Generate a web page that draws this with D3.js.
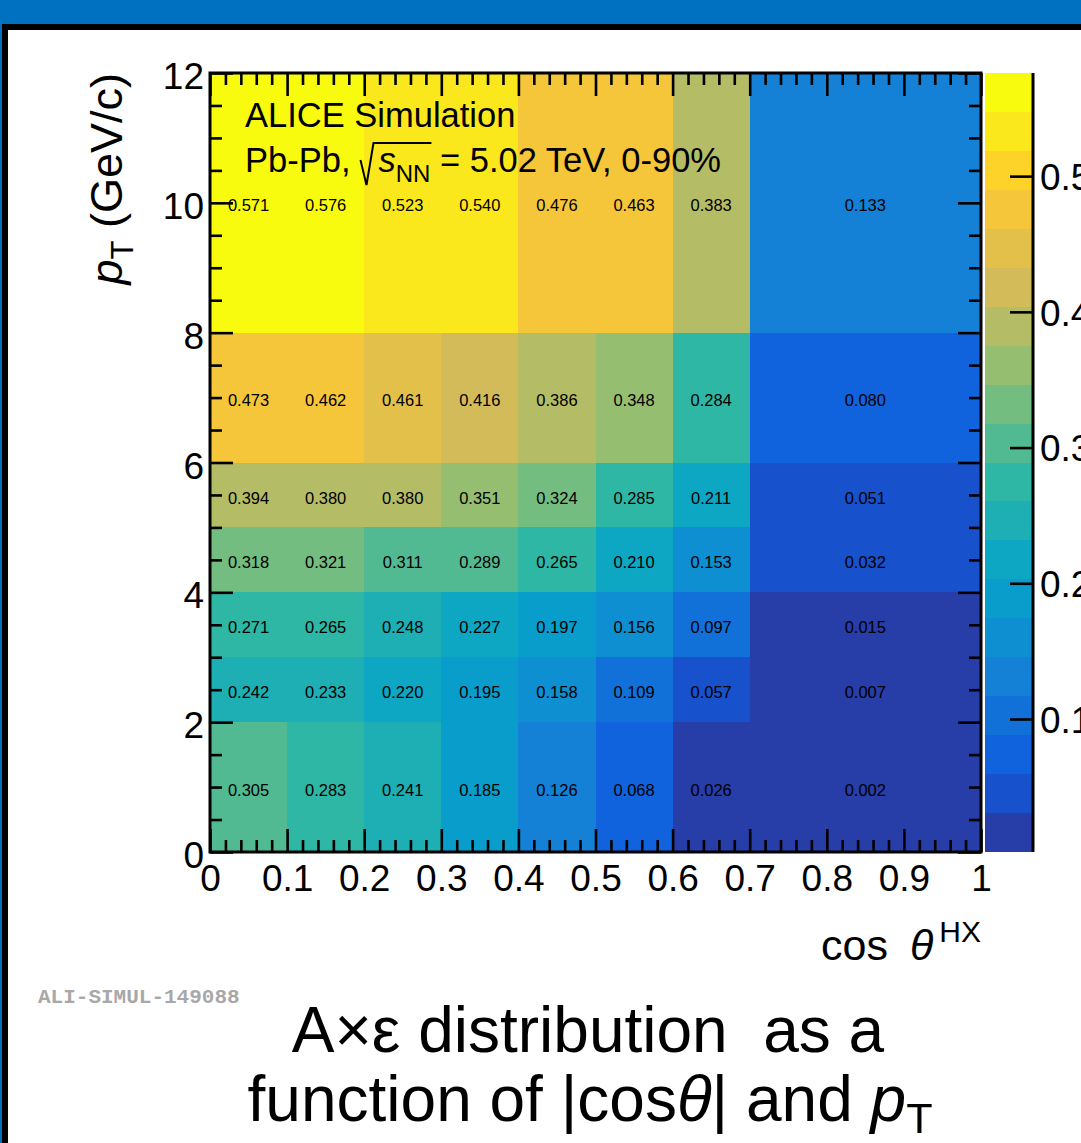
<!DOCTYPE html>
<html>
<head>
<meta charset="utf-8">
<script src="https://cdn.jsdelivr.net/npm/d3@7"></script>
<style>
  html, body { margin: 0; padding: 0; background: #fff; }
  svg { display: block; font-family: "Liberation Sans", Arial, Helvetica, sans-serif; }
  text { white-space: pre; }
</style>
</head>
<body>
<svg id="chart" width="1081" height="1143"></svg>
<script>
// Bin edges of the 2D histogram
const cosEdges = [0, 0.1, 0.2, 0.3, 0.4, 0.5, 0.6, 0.7, 1.0];
const ptEdges = [0, 2, 3, 4, 5, 6, 8, 12];

// Acceptance x efficiency, one row per pT bin (low to high), one entry per |cos theta| bin
const accEffPt0to2  = [0.305, 0.283, 0.241, 0.185, 0.126, 0.068, 0.026, 0.002];
const accEffPt2to3  = [0.242, 0.233, 0.220, 0.195, 0.158, 0.109, 0.057, 0.007];
const accEffPt3to4  = [0.271, 0.265, 0.248, 0.227, 0.197, 0.156, 0.097, 0.015];
const accEffPt4to5  = [0.318, 0.321, 0.311, 0.289, 0.265, 0.210, 0.153, 0.032];
const accEffPt5to6  = [0.394, 0.380, 0.380, 0.351, 0.324, 0.285, 0.211, 0.051];
const accEffPt6to8  = [0.473, 0.462, 0.461, 0.416, 0.386, 0.348, 0.284, 0.080];
const accEffPt8to12 = [0.571, 0.576, 0.523, 0.540, 0.476, 0.463, 0.383, 0.133];
const accEff = [accEffPt0to2, accEffPt2to3, accEffPt3to4, accEffPt4to5, accEffPt5to6, accEffPt6to8, accEffPt8to12];

// Axis ticks
const xTickValues = [0, 0.1, 0.2, 0.3, 0.4, 0.5, 0.6, 0.7, 0.8, 0.9, 1];
const xTickLabels = ["0", "0.1", "0.2", "0.3", "0.4", "0.5", "0.6", "0.7", "0.8", "0.9", "1"];
const yTickValues = [0, 2, 4, 6, 8, 10, 12];
const yTickLabels = ["0", "2", "4", "6", "8", "10", "12"];
const zTickValues = [0.1, 0.2, 0.3, 0.4, 0.5];
const zTickLabels = ["0.1", "0.2", "0.3", "0.4", "0.5"];
const zRange = [0.002, 0.576];
const nContours = 20;

// "Bird" palette (ROOT kBird)
const birdStops = [0.0, 0.125, 0.25, 0.375, 0.5, 0.625, 0.75, 0.875, 1.0];
const birdR = [0.2082, 0.0592, 0.0780, 0.0232, 0.1802, 0.5301, 0.8186, 0.9956, 0.9764];
const birdG = [0.1664, 0.3599, 0.5041, 0.6419, 0.7178, 0.7492, 0.7328, 0.7862, 0.9832];
const birdB = [0.5293, 0.8684, 0.8385, 0.7914, 0.6425, 0.4662, 0.3499, 0.1968, 0.0539];
const bird = d3.scaleLinear()
  .domain(birdStops)
  .range(birdStops.map((_, i) => d3.rgb(birdR[i] * 255, birdG[i] * 255, birdB[i] * 255).toString()));
const bandColors = d3.range(nContours).map(k => bird(Math.floor((k + 0.99) * 255 / nContours) / 254));
const color = d3.scaleQuantize().domain(zRange).range(bandColors);

const svg = d3.select("#chart");

// Slide background: blue band, black border, white page
svg.append("rect").attr("x", 0).attr("y", 0).attr("width", 1081).attr("height", 1143).attr("fill", "#0070c0");
svg.append("rect").attr("x", 2).attr("y", 24).attr("width", 1079).attr("height", 1119).attr("fill", "#000");
svg.append("rect").attr("x", 8).attr("y", 30).attr("width", 1073).attr("height", 1113).attr("fill", "#fff");

// Plot frame
const frame = { left: 210, right: 981, top: 73, bottom: 852 };
const x = d3.scaleLinear().domain([0, 1]).range([frame.left, frame.right]);
const y = d3.scaleLinear().domain([0, 12]).range([frame.bottom, frame.top]);

// Cells
const cells = [];
accEff.forEach((row, i) => row.forEach((v, j) => cells.push({ i, j, v })));

const gCells = svg.append("g");
gCells.selectAll("rect").data(cells).join("rect")
  .attr("x", d => x(cosEdges[d.j]))
  .attr("y", d => y(ptEdges[d.i + 1]))
  .attr("width", d => x(cosEdges[d.j + 1]) - x(cosEdges[d.j]))
  .attr("height", d => y(ptEdges[d.i]) - y(ptEdges[d.i + 1]))
  .attr("fill", d => color(d.v))
  .attr("shape-rendering", "crispEdges");

gCells.selectAll("text").data(cells).join("text")
  .attr("x", d => x((cosEdges[d.j] + cosEdges[d.j + 1]) / 2))
  .attr("y", d => y((ptEdges[d.i] + ptEdges[d.i + 1]) / 2))
  .attr("dy", "0.52em")
  .attr("text-anchor", "middle")
  .style("font-size", "16.5px")
  .attr("fill", "#000")
  .text(d => d.v.toFixed(3));

// Axes with inward ticks, minor ticks and mirrored ticks on top/right
const majorLen = 23, minorLen = 12;
const xMinor = d3.range(0, 1.0001, 0.02).filter(v => Math.abs(Math.round(v * 10) - v * 10) > 1e-6);
const yMinor = d3.range(0, 12.0001, 0.5).filter(v => Math.abs(v / 2 - Math.round(v / 2)) > 1e-6);

function styleAxis(g) {
  g.select(".domain").remove();
  g.selectAll(".tick line").attr("stroke", "#000").attr("stroke-width", 2.6);
  g.selectAll(".tick text").attr("fill", "#000").style("font-size", "37px");
}

svg.append("g").attr("transform", `translate(0,${frame.bottom})`)
  .call(d3.axisBottom(x).tickValues(xTickValues).tickFormat((d, i) => xTickLabels[i]).tickSize(-majorLen).tickPadding(13))
  .call(styleAxis);
svg.append("g").attr("transform", `translate(0,${frame.bottom})`)
  .call(d3.axisBottom(x).tickValues(xMinor).tickFormat("").tickSize(-minorLen))
  .call(styleAxis);
svg.append("g").attr("transform", `translate(0,${frame.top})`)
  .call(d3.axisTop(x).tickValues(xTickValues).tickFormat("").tickSize(-majorLen))
  .call(styleAxis);
svg.append("g").attr("transform", `translate(0,${frame.top})`)
  .call(d3.axisTop(x).tickValues(xMinor).tickFormat("").tickSize(-minorLen))
  .call(styleAxis);

const gLeft = svg.append("g").attr("transform", `translate(${frame.left},0)`)
  .call(d3.axisLeft(y).tickValues(yTickValues).tickFormat((d, i) => yTickLabels[i]).tickSize(-majorLen).tickPadding(6))
  .call(styleAxis);
gLeft.selectAll(".tick text").attr("dy", "0.42em");
svg.append("g").attr("transform", `translate(${frame.left},0)`)
  .call(d3.axisLeft(y).tickValues(yMinor).tickFormat("").tickSize(-minorLen))
  .call(styleAxis);
svg.append("g").attr("transform", `translate(${frame.right},0)`)
  .call(d3.axisRight(y).tickValues(yTickValues).tickFormat("").tickSize(-majorLen))
  .call(styleAxis);
svg.append("g").attr("transform", `translate(${frame.right},0)`)
  .call(d3.axisRight(y).tickValues(yMinor).tickFormat("").tickSize(-minorLen))
  .call(styleAxis);

svg.append("rect")
  .attr("x", frame.left).attr("y", frame.top)
  .attr("width", frame.right - frame.left).attr("height", frame.bottom - frame.top)
  .attr("fill", "none").attr("stroke", "#000").attr("stroke-width", 3);

// Colour palette axis
const cb = { left: 985, right: 1033 };
const z = d3.scaleLinear().domain(zRange).range([frame.bottom, frame.top]);
const bandW = (zRange[1] - zRange[0]) / nContours;
svg.append("g").selectAll("rect").data(bandColors).join("rect")
  .attr("x", cb.left)
  .attr("y", (c, k) => z(zRange[0] + (k + 1) * bandW))
  .attr("width", cb.right - cb.left)
  .attr("height", (c, k) => z(zRange[0] + k * bandW) - z(zRange[0] + (k + 1) * bandW))
  .attr("fill", c => c)
  .attr("shape-rendering", "crispEdges");
const gZ = svg.append("g").attr("transform", `translate(${cb.right},0)`)
  .call(d3.axisRight(z).tickValues(zTickValues).tickFormat((d, i) => zTickLabels[i]).tickSize(-majorLen).tickPadding(7))
  .call(styleAxis);
gZ.selectAll(".tick text").attr("dy", "0.36em");
svg.append("line")
  .attr("x1", cb.right).attr("x2", cb.right).attr("y1", frame.top).attr("y2", frame.bottom)
  .attr("stroke", "#000").attr("stroke-width", 3);

// Axis titles
const xTitle = svg.append("text")
  .attr("x", frame.right).attr("y", 960)
  .attr("text-anchor", "end")
  .style("font-size", "43px");
xTitle.append("tspan").text("cos ");
xTitle.append("tspan").style("font-style", "italic").attr("dx", 10).text("θ");
xTitle.append("tspan").style("font-size", "30px").attr("dx", 6).attr("dy", -18).text("HX");

const yTitle = svg.append("text")
  .attr("transform", `translate(122,${frame.top}) rotate(-90)`)
  .attr("text-anchor", "end")
  .style("font-size", "45px");
yTitle.append("tspan").style("font-style", "italic").text("p");
yTitle.append("tspan").style("font-size", "31px").attr("dy", 11).text("T");
yTitle.append("tspan").attr("dy", -11).text(" (GeV/c)");

// Labels inside the frame
svg.append("text").attr("x", 245).attr("y", 127).style("font-size", "34.5px").text("ALICE Simulation");
const sys = svg.append("text").attr("x", 245).attr("y", 172).style("font-size", "34.5px");
sys.append("tspan").text("Pb-Pb,");
sys.append("tspan").attr("dx", 28).style("font-style", "italic").text("s");
sys.append("tspan").style("font-size", "24px").attr("dy", 10).text("NN");
sys.append("tspan").attr("dy", -10).text(" = 5.02 TeV, 0-90%");
{
  const node = sys.node();
  const sPos = node.getStartPositionOfChar(6).x;
  const nnEnd = node.getEndPositionOfChar(8).x;
  svg.append("path")
    .attr("d", `M${sPos - 18},160 L${sPos - 12},185 L${sPos - 5},143 L${nnEnd + 1},143`)
    .attr("fill", "none").attr("stroke", "#000").attr("stroke-width", 2);
}

// Figure identifier and caption
svg.append("text").attr("x", 38).attr("y", 1003)
  .style("font-family", "'Liberation Mono', 'DejaVu Sans Mono', monospace")
  .style("font-weight", "bold").style("font-size", "21px")
  .attr("fill", "#a8a8a8")
  .text("ALI-SIMUL-149088");

const cap1 = svg.append("text").attr("x", 588).attr("y", 1052)
  .attr("text-anchor", "middle").style("font-size", "64px").attr("fill", "#000");
cap1.text("A×ε distribution  as a");
const cap2 = svg.append("text").attr("x", 590).attr("y", 1121)
  .attr("text-anchor", "middle").style("font-size", "64px").attr("fill", "#000");
cap2.append("tspan").text("function of |cos");
cap2.append("tspan").style("font-style", "italic").text("θ");
cap2.append("tspan").text("| and ");
cap2.append("tspan").style("font-style", "italic").text("p");
cap2.append("tspan").style("font-size", "43px").attr("dy", 12).text("T");
</script>
</body>
</html>
